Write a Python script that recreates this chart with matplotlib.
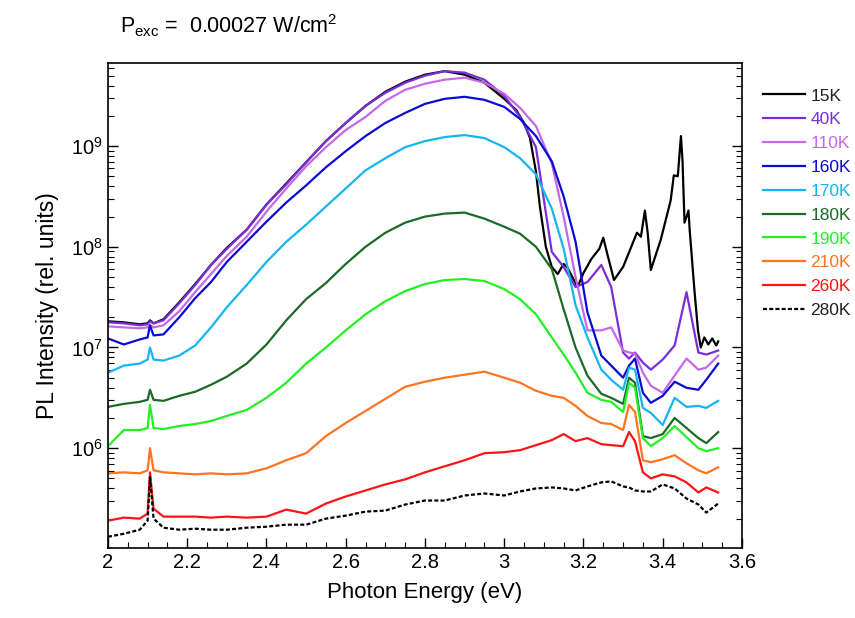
import numpy as np
import matplotlib
matplotlib.use('Agg')
import matplotlib.pyplot as plt
from matplotlib.ticker import MultipleLocator, LogLocator

plt.rcParams['font.family'] = ['Liberation Sans', 'DejaVu Sans']
plt.rcParams['mathtext.fontset'] = 'custom'
plt.rcParams['mathtext.rm'] = 'Liberation Sans'
plt.rcParams['mathtext.it'] = 'Liberation Sans:italic'

# shared energy grid (eV) for all spectra except 15K
energy = [2.00, 2.04, 2.08, 2.10, 2.106, 2.115, 2.14, 2.18, 2.22, 2.26,
          2.30, 2.35, 2.40, 2.45, 2.50, 2.55, 2.60, 2.65, 2.70, 2.75,
          2.80, 2.85, 2.90, 2.95, 3.00, 3.04, 3.08, 3.12, 3.15, 3.18,
          3.21, 3.245, 3.27, 3.30, 3.315, 3.33, 3.35, 3.37, 3.40, 3.43,
          3.46, 3.49, 3.51, 3.54]

# log10 of PL intensity
log_40K = [7.25, 7.24, 7.22, 7.23, 7.26, 7.24, 7.27, 7.44, 7.62, 7.82,
           7.98, 8.17, 8.42, 8.62, 8.84, 9.05, 9.23, 9.40, 9.53, 9.63,
           9.70, 9.745, 9.73, 9.66, 9.50, 9.29, 8.99, 7.95, 7.80, 7.60,
           7.65, 7.82, 7.60, 6.95, 6.89, 6.95, 6.85, 6.78, 6.88, 7.02,
           7.55, 6.95, 6.93, 6.97]
log_110K = [7.21, 7.20, 7.19, 7.20, 7.22, 7.20, 7.22, 7.36, 7.55, 7.73,
            7.91, 8.10, 8.35, 8.58, 8.80, 8.99, 9.16, 9.29, 9.45, 9.56,
            9.62, 9.66, 9.68, 9.63, 9.52, 9.38, 9.20, 8.83, 8.30, 7.70,
            7.17, 7.17, 7.20, 6.97, 6.95, 6.94, 6.75, 6.62, 6.55, 6.72,
            6.89, 6.78, 6.80, 6.92]
log_160K = [7.09, 7.03, 7.08, 7.10, 7.22, 7.12, 7.13, 7.30, 7.49, 7.65,
            7.85, 8.05, 8.25, 8.44, 8.61, 8.79, 8.95, 9.10, 9.23, 9.33,
            9.42, 9.47, 9.49, 9.46, 9.39, 9.27, 9.10, 8.85, 8.50, 8.05,
            7.35, 6.92, 6.82, 6.70, 6.82, 6.89, 6.55, 6.45, 6.52, 6.66,
            6.60, 6.58, 6.68, 6.84]
log_170K = [6.75, 6.82, 6.84, 6.88, 7.00, 6.88, 6.87, 6.92, 7.02, 7.20,
            7.40, 7.62, 7.85, 8.05, 8.22, 8.40, 8.58, 8.76, 8.88, 8.99,
            9.05, 9.09, 9.11, 9.08, 8.99, 8.88, 8.72, 8.38, 7.98, 7.42,
            7.10, 6.78, 6.68, 6.58, 6.80, 6.78, 6.40, 6.35, 6.23, 6.50,
            6.41, 6.42, 6.40, 6.47]
log_180K = [6.41, 6.44, 6.46, 6.48, 6.58, 6.48, 6.47, 6.52, 6.56, 6.63,
            6.71, 6.84, 7.03, 7.27, 7.48, 7.64, 7.83, 8.00, 8.14, 8.24,
            8.30, 8.33, 8.34, 8.28, 8.20, 8.13, 8.00, 7.78, 7.38, 7.00,
            6.72, 6.54, 6.50, 6.44, 6.70, 6.65, 6.12, 6.10, 6.14, 6.30,
            6.20, 6.10, 6.05, 6.16]
log_190K = [6.02, 6.18, 6.18, 6.20, 6.43, 6.20, 6.19, 6.22, 6.24, 6.27,
            6.32, 6.38, 6.50, 6.65, 6.84, 7.00, 7.17, 7.33, 7.46, 7.56,
            7.63, 7.67, 7.68, 7.66, 7.58, 7.48, 7.33, 7.10, 6.93, 6.75,
            6.55, 6.48, 6.46, 6.36, 6.65, 6.60, 6.10, 6.02, 6.10, 6.22,
            6.11, 6.00, 5.97, 6.00]
log_210K = [5.75, 5.76, 5.75, 5.78, 6.00, 5.78, 5.76, 5.75, 5.74, 5.75,
            5.74, 5.75, 5.80, 5.88, 5.95, 6.12, 6.25, 6.37, 6.49, 6.61,
            6.66, 6.70, 6.73, 6.76, 6.70, 6.65, 6.57, 6.52, 6.50, 6.42,
            6.32, 6.25, 6.24, 6.18, 6.43, 6.36, 5.88, 5.86, 5.89, 5.93,
            5.85, 5.78, 5.75, 5.81]
log_260K = [5.28, 5.31, 5.30, 5.35, 5.76, 5.40, 5.32, 5.32, 5.32, 5.31,
            5.32, 5.31, 5.32, 5.39, 5.35, 5.45, 5.52, 5.58, 5.64, 5.69,
            5.76, 5.82, 5.88, 5.95, 5.96, 5.98, 6.03, 6.08, 6.14, 6.07,
            6.10, 6.04, 6.03, 6.02, 6.16, 6.07, 5.76, 5.70, 5.74, 5.72,
            5.66, 5.56, 5.61, 5.56]
log_280K = [5.12, 5.15, 5.19, 5.28, 5.71, 5.30, 5.21, 5.19, 5.20, 5.19,
            5.19, 5.21, 5.22, 5.24, 5.24, 5.30, 5.33, 5.37, 5.38, 5.44,
            5.48, 5.48, 5.53, 5.55, 5.53, 5.57, 5.60, 5.61, 5.60, 5.58,
            5.62, 5.66, 5.67, 5.62, 5.61, 5.58, 5.57, 5.57, 5.64, 5.60,
            5.50, 5.44, 5.36, 5.45]

# 15K has its own sampling (sharp excitonic peaks at high energy)
energy_15K = [2.00, 2.04, 2.08, 2.10, 2.106, 2.115, 2.14, 2.18, 2.22, 2.26,
              2.30, 2.35, 2.40, 2.45, 2.50, 2.55, 2.60, 2.65, 2.70, 2.75,
              2.80, 2.85, 2.90, 2.95, 3.00, 3.03, 3.05, 3.065, 3.08, 3.09,
              3.105, 3.12, 3.135, 3.15, 3.16, 3.185, 3.20, 3.22, 3.24, 3.25,
              3.262, 3.277, 3.30, 3.335, 3.345, 3.355, 3.362, 3.37, 3.395, 3.42,
              3.428, 3.438, 3.446, 3.45, 3.455, 3.465, 3.468, 3.48, 3.489, 3.496,
              3.505, 3.515, 3.525, 3.535, 3.54]
log_15K = [7.26, 7.25, 7.23, 7.24, 7.27, 7.24, 7.28, 7.45, 7.63, 7.82,
           7.99, 8.17, 8.42, 8.63, 8.84, 9.05, 9.23, 9.40, 9.54, 9.64,
           9.71, 9.745, 9.71, 9.63, 9.47, 9.36, 9.23, 9.08, 8.75, 8.40,
           8.00, 7.80, 7.73, 7.83, 7.79, 7.60, 7.74, 7.88, 7.98, 8.09,
           7.90, 7.67, 7.80, 8.14, 8.10, 8.36, 8.14, 7.77, 8.07, 8.46,
           8.71, 8.70, 9.10, 8.85, 8.24, 8.36, 8.17, 7.57, 7.17, 7.00,
           7.10, 7.03, 7.09, 7.02, 7.06]

labels = ['15K', '40K', '110K', '160K', '170K', '180K', '190K', '210K', '260K', '280K']
series = [log_15K, log_40K, log_110K, log_160K, log_170K, log_180K,
          log_190K, log_210K, log_260K, log_280K]
colors = ['#000000', '#7a2ed8', '#c468e6', '#0a0ad2', '#16b4f0', '#1b6a28',
          '#22f022', '#ff7420', '#ff1414', '#000000']

fig = plt.figure(figsize=(8.55, 6.18), dpi=100)
ax = fig.add_axes([0.1263, 0.1133, 0.7415, 0.7848])

for lab, vals, col in zip(labels, series, colors):
    x = energy_15K if lab == '15K' else energy
    y = 10 ** np.array(vals)
    if lab == '280K':
        ax.plot(x, y, color=col, lw=1.6, ls=(0, (1.8, 1.0)), label=lab)
    else:
        ax.plot(x, y, color=col, lw=1.6, label=lab)

ax.set_yscale('log')
ax.set_xlim(2.0, 3.6)
ax.set_ylim(1.02e5, 6.7e9)
ax.set_xticks([2, 2.2, 2.4, 2.6, 2.8, 3, 3.2, 3.4, 3.6])
ax.set_xticklabels(['2', '2.2', '2.4', '2.6', '2.8', '3', '3.2', '3.4', '3.6'])
ax.xaxis.set_minor_locator(MultipleLocator(0.05))
ax.yaxis.set_major_locator(LogLocator(base=10, numticks=10))
ax.yaxis.set_minor_locator(LogLocator(base=10, subs=np.arange(2, 10), numticks=20))

ax.tick_params(which='both', direction='in', right=True, top=False, labelsize=14.5)
ax.tick_params(which='major', length=7, width=1)
ax.tick_params(which='minor', length=4, width=0.8)
for s in ax.spines.values():
    s.set_linewidth(1.2)

ax.set_xlabel('Photon Energy (eV)', fontsize=16, labelpad=7)
ax.set_ylabel('PL Intensity (rel. units)', fontsize=16.5, labelpad=9)

fig.text(0.14, 0.958, r'P$_{\mathrm{exc}}$ =  0.00027 W/cm$^2$', fontsize=15.5,
         ha='left', va='center')

leg = ax.legend(loc='upper left', bbox_to_anchor=(0.8924, 0.857),
                bbox_transform=fig.transFigure, frameon=False, fontsize=12.5,
                handlelength=2.42, handletextpad=0.3, labelspacing=0.5,
                borderpad=0, borderaxespad=0, labelcolor='linecolor')
for t in leg.get_texts():
    if t.get_text() in ('15K', '280K'):
        t.set_color('#222222')

fig.savefig('out.png', dpi=100)
